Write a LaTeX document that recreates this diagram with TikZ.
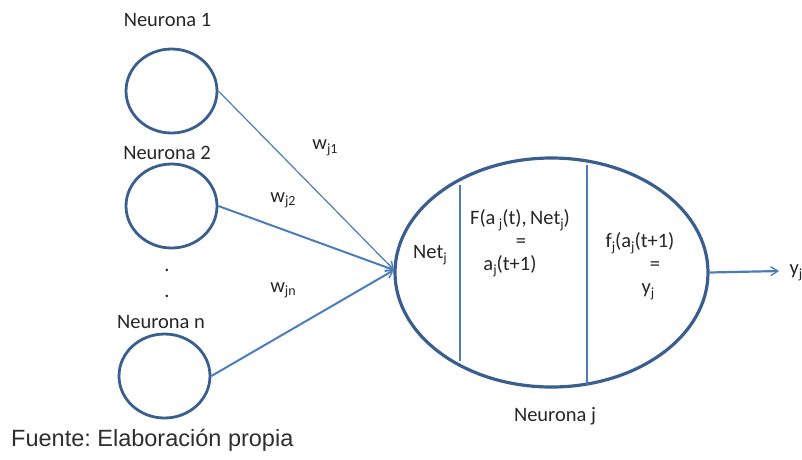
\documentclass[tikz,border=0pt]{standalone}
\usepackage{fontspec}
\setmainfont{Carlito}
\newfontfamily\arialf{Liberation Sans}
\usetikzlibrary{shapes.geometric,arrows.meta}
\definecolor{circblue}{HTML}{3A5F8E}
\definecolor{arrblue}{HTML}{4A7EBB}
\definecolor{txt}{HTML}{262626}
\newcommand\sbs[1]{\raisebox{-0.35ex}{\fontsize{14}{14}\selectfont #1}}
\frenchspacing
\begin{document}
\begin{tikzpicture}[x=1pt,y=-1pt,
  lbl/.style={inner sep=0pt,text=txt,font=\fontsize{20.5}{23}\selectfont,align=center},
  neur/.style={draw=circblue,line width=2.8pt,ellipse,minimum width=91pt,minimum height=84pt,inner sep=0pt},
  conn/.style={draw=arrblue,line width=1.6pt,-{Straight Barb[length=7pt,width=9pt,line width=1.4pt]}},
  divl/.style={draw=arrblue,line width=2.4pt}]
\useasboundingbox (0,0) rectangle (802,459);
% neurons
\node[neur] (n1) at (171.5,91) {};
\node[neur] (n2) at (171.5,206) {};
\node[neur] (nn) at (164.5,376) {};
\node[lbl] (l1) at (167.5,20) {Neurona 1};
\node[lbl] (l2) at (167,153) {Neurona 2};
\node[lbl] (d1) at (167,270) {.};
\node[lbl] (d2) at (167,296) {.};
\node[lbl] (ln) at (161,322) {Neurona n};
% big neuron
\node[draw=circblue,line width=3.2pt,ellipse,minimum width=313pt,minimum height=229pt,inner sep=0pt] (nj) at (551.5,272.5) {};
\draw[divl] (460,185) -- (460,361);
\draw[divl] (587,165) -- (587,385);
\node[lbl] (net) at (430,255) {Net\sbs{j}};
\node[lbl] (F1) at (520,220) {F(a\,\sbs{j}(t),\,Net\sbs{j})};
\node[lbl] (F2) at (521,243) {=};
\node[lbl] (F3) at (510,266) {a\sbs{j}(t+1)};
\node[lbl] (f1) at (640,243) {f\sbs{j}(a\sbs{j}(t+1)};
\node[lbl] (f2) at (655,266) {=};
\node[lbl] (f3) at (648,292) {y\sbs{j}};
\node[lbl] (lj) at (555,416) {Neurona j};
% weights
\node[lbl] (w1) at (325,148) {w\sbs{j1}};
\node[lbl] (w2) at (283,200) {w\sbs{j2}};
\node[lbl] (wn) at (283,290) {w\sbs{jn}};
% connectors
\coordinate (in) at (394,270);
\draw[conn,line width=1.2pt] (n1.east) -- (in);
\draw[conn,line width=2pt] (n2.east) -- (in);
\draw[conn,line width=2pt] (nn.east) -- (in);
\coordinate (out) at (779,271);
\draw[conn,line width=2.2pt] (nj.east) -- (out);
\node[lbl] (yo) at (796,273) {y\sbs{j}};
% source
\node[lbl,anchor=west,font=\arialf\fontsize{23.5}{26}\selectfont,text=black!82] (src) at (11,440) {Fuente: Elaboración propia};
\end{tikzpicture}
\end{document}
